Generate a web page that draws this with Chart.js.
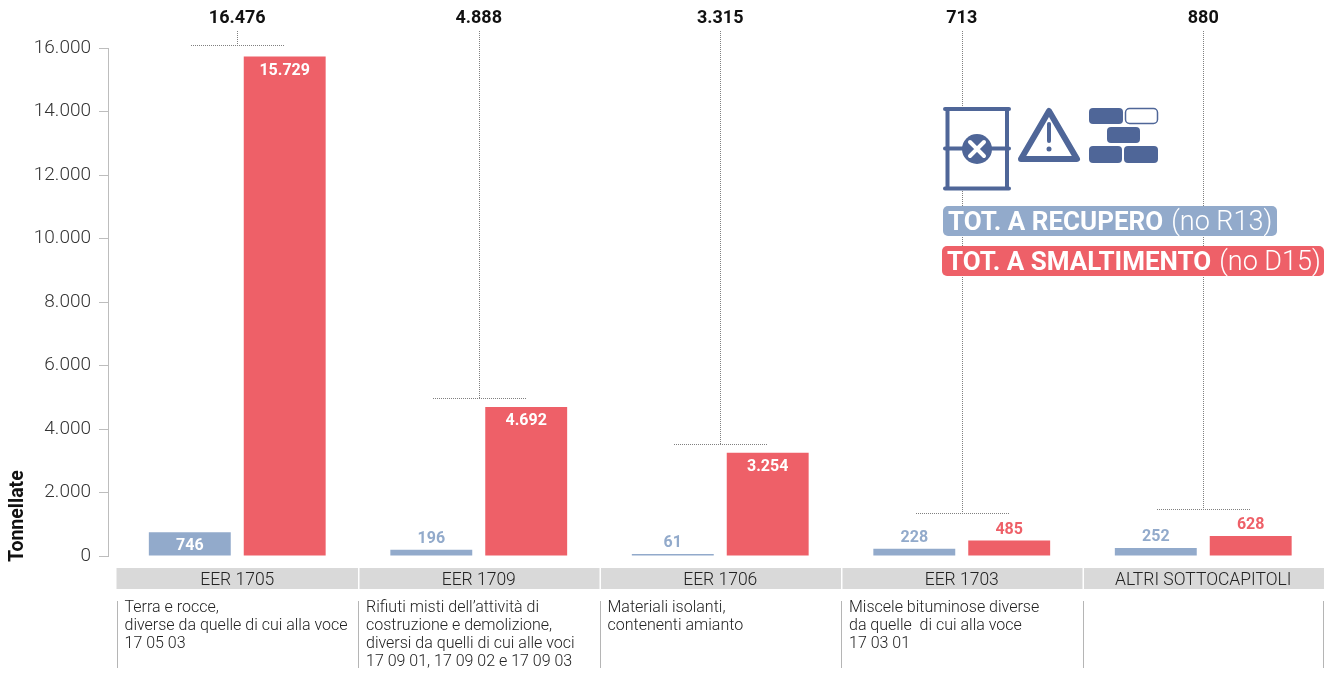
<!DOCTYPE html>
<html>
<head>
<meta charset="utf-8">
<title>Rifiuti per capitolo EER</title>
<script src="https://cdn.jsdelivr.net/npm/chart.js@4"></script>
<style>
    html, body { margin: 0; padding: 0; background: #fff; }
    canvas { display: block; }
</style>
</head>
<body>
<canvas id="bar-chart" width="1333" height="679"></canvas>
<script>
var categories = ["EER 1705", "EER 1709", "EER 1706", "EER 1703", "ALTRI SOTTOCAPITOLI"];
var recupero = [746, 196, 61, 228, 252];
var smaltimento = [15729, 4692, 3254, 485, 628];
var totali = [16476, 4888, 3315, 713, 880];
var bracketLevels = [16090, 4980, 3530, 1350, 1480];
var yTicks = [0, 2000, 4000, 6000, 8000, 10000, 12000, 14000, 16000];
var descriptions = [
    ["Terra e rocce,", "diverse da quelle di cui alla voce", "17 05 03"],
    ["Rifiuti misti dell\u2019attività di", "costruzione e demolizione,", "diversi da quelli di cui alle voci", "17 09 01, 17 09 02 e 17 09 03"],
    ["Materiali isolanti,", "contenenti amianto"],
    ["Miscele bituminose diverse", "da quelle  di cui alla voce", "17 03 01"],
    []
];

var BLUE = "#92aacb", RED = "#ee6068", DARK = "#4f6698", FONT = "Roboto";

function fmt(v) {
    return String(v).replace(/\B(?=(\d{3})+$)/g, ".");
}

function roundBox(ctx, x, y, w, h, r) {
    ctx.beginPath();
    ctx.roundRect(x, y, w, h, r);
}

// the y axis sits a bit left of the first category band
var shiftX = {
    id: "shiftX",
    afterLayout: function (chart) {
        var x = chart.scales.x;
        x.left = 116.5;
        x.width = x.right - x.left;
        x.configure();
    }
};

var bands = {
    id: "bands",
    beforeDraw: function (chart) {
        var ctx = chart.ctx, x = chart.scales.x, w = x.width / categories.length;
        ctx.save();
        categories.forEach(function (c, i) {
            var left = x.getPixelForValue(i) - w / 2;
            ctx.fillStyle = "#d9d9d9";
            ctx.fillRect(left + (i ? 1.5 : 0), 568, w - (i ? 1.5 : 0), 21);
            ctx.fillStyle = "#b5b5b5";
            ctx.fillRect(Math.round(left), 601, 1, 67);
            ctx.fillStyle = "#222";
            ctx.font = "300 16px " + FONT;
            ctx.textBaseline = "middle";
            descriptions[i].forEach(function (line, n) {
                ctx.fillText(line, left + 8, 608 + n * 18);
            });
        });
        ctx.fillStyle = "#b5b5b5";
        ctx.fillRect(1323, 601, 1, 67);

        // axis title, starts a little below the baseline of the plot
        ctx.translate(23, 562);
        ctx.rotate(-Math.PI / 2);
        ctx.fillStyle = "#111";
        ctx.font = "bold 19.5px " + FONT;
        ctx.textBaseline = "alphabetic";
        ctx.fillText("Tonnellate", 0, 0);
        ctx.restore();
    }
};

var totals = {
    id: "totals",
    afterDatasetsDraw: function (chart) {
        var ctx = chart.ctx, x = chart.scales.x, y = chart.scales.y;
        ctx.save();
        // dotted brackets joining each pair of bars to its total
        ctx.strokeStyle = "#808080";
        ctx.lineWidth = 1;
        ctx.setLineDash([1, 1]);
        totali.forEach(function (t, i) {
            var c = Math.round(x.getPixelForValue(i));
            var by = Math.round(y.getPixelForValue(bracketLevels[i])) + 0.5;
            ctx.beginPath();
            ctx.moveTo(c + 0.5, 31);
            ctx.lineTo(c + 0.5, by);
            ctx.stroke();
            ctx.beginPath();
            ctx.moveTo(c - 46, by);
            ctx.lineTo(c + 47, by);
            ctx.stroke();
        });
        ctx.setLineDash([]);

        ctx.textAlign = "center";
        ctx.textBaseline = "middle";
        ctx.fillStyle = "#111";
        ctx.font = "bold 18px " + FONT;
        totali.forEach(function (t, i) {
            ctx.fillText(fmt(t), x.getPixelForValue(i), 18);
        });

        // bar values: inside when the bar is tall enough, above otherwise
        ctx.font = "bold 16px " + FONT;
        chart.data.datasets.forEach(function (ds, d) {
            chart.getDatasetMeta(d).data.forEach(function (bar, i) {
                var v = ds.data[i];
                if (v > 700) {
                    ctx.fillStyle = "#fff";
                    ctx.fillText(fmt(v), bar.x, bar.y + 14);
                } else {
                    ctx.fillStyle = ds.backgroundColor;
                    ctx.fillText(fmt(v), bar.x, bar.y - 11);
                }
            });
        });
        ctx.restore();
    }
};

var legendBox = {
    id: "legendBox",
    afterDraw: function (chart) {
        var ctx = chart.ctx;
        ctx.save();
        ctx.strokeStyle = DARK;
        ctx.fillStyle = DARK;
        ctx.lineCap = "round";
        ctx.lineJoin = "round";

        // barrel
        ctx.fillStyle = "#fff";
        ctx.fillRect(947, 109, 60, 80);
        ctx.fillStyle = DARK;
        ctx.lineWidth = 4;
        ctx.beginPath();
        ctx.moveTo(945, 109); ctx.lineTo(1009, 109);
        ctx.moveTo(945, 148.5); ctx.lineTo(1009, 148.5);
        ctx.moveTo(945, 188.5); ctx.lineTo(1009, 188.5);
        ctx.moveTo(947.5, 109); ctx.lineTo(947.5, 188);
        ctx.moveTo(1007, 109); ctx.lineTo(1007, 188);
        ctx.stroke();
        ctx.beginPath();
        ctx.arc(977, 149, 15, 0, Math.PI * 2);
        ctx.fill();
        ctx.strokeStyle = "#fff";
        ctx.beginPath();
        ctx.moveTo(970, 142); ctx.lineTo(984, 156);
        ctx.moveTo(984, 142); ctx.lineTo(970, 156);
        ctx.stroke();

        // warning triangle
        ctx.strokeStyle = DARK;
        ctx.lineWidth = 6;
        ctx.beginPath();
        ctx.moveTo(1049, 111); ctx.lineTo(1077, 159); ctx.lineTo(1021, 159);
        ctx.closePath();
        ctx.stroke();
        ctx.lineWidth = 4;
        ctx.beginPath();
        ctx.moveTo(1049, 124); ctx.lineTo(1049, 141);
        ctx.stroke();
        ctx.beginPath();
        ctx.arc(1049, 149, 2.5, 0, Math.PI * 2);
        ctx.fill();

        // bricks
        roundBox(ctx, 1089, 108, 34, 16, 4); ctx.fill();
        roundBox(ctx, 1107, 127, 33, 16, 4); ctx.fill();
        roundBox(ctx, 1089, 146, 33, 17, 4); ctx.fill();
        roundBox(ctx, 1124, 146, 34, 17, 4); ctx.fill();
        ctx.lineWidth = 1.5;
        roundBox(ctx, 1125.5, 108.5, 32, 15, 4); ctx.stroke();

        // legend pills
        function pill(x, y, w, color, strong, light) {
            ctx.fillStyle = color;
            roundBox(ctx, x, y, w, 30, 5);
            ctx.fill();
            ctx.fillStyle = "#fff";
            ctx.textBaseline = "middle";
            ctx.font = "bold 26px " + FONT;
            ctx.fillText(strong, x + 5, y + 17);
            var tw = ctx.measureText(strong).width;
            ctx.font = "300 27px " + FONT;
            ctx.fillText(light, x + 13 + tw, y + 17);
        }
        pill(943, 206, 334, BLUE, "TOT. A RECUPERO", "(no R13)");
        pill(942, 246, 382, RED, "TOT. A SMALTIMENTO", "(no D15)");
        ctx.restore();
    }
};

new Chart(document.getElementById("bar-chart"), {
    type: "bar",
    data: {
        labels: categories,
        datasets: [
            { label: "TOT. A RECUPERO (no R13)", data: recupero, backgroundColor: BLUE },
            { label: "TOT. A SMALTIMENTO (no D15)", data: smaltimento, backgroundColor: RED }
        ]
    },
    plugins: [shiftX, bands, totals, legendBox],
    options: {
        responsive: false,
        animation: false,
        categoryPercentage: 0.786,
        barPercentage: 0.863,
        layout: { padding: { top: 48, right: 9, left: 0, bottom: 0 } },
        plugins: {
            legend: { display: false },
            title: { display: false },
            tooltip: { enabled: false }
        },
        scales: {
            x: {
                afterFit: function (scale) { scale.height = 123; },
                grid: { display: false },
                border: { display: false },
                ticks: {
                    color: "#222",
                    padding: 6,
                    maxRotation: 0,
                    autoSkip: false,
                    font: { family: FONT, size: 17.5, weight: "300" }
                }
            },
            y: {
                min: 0,
                max: 16000,
                afterFit: function (scale) { scale.width = 108; },
                afterBuildTicks: function (scale) {
                    scale.ticks = yTicks.map(function (v) { return { value: v }; });
                },
                border: { color: "#bdbdbd" },
                grid: { drawOnChartArea: false, color: "#bdbdbd", tickLength: 9 },
                ticks: {
                    color: "#333",
                    padding: 8,
                    font: { family: FONT, size: 19, weight: "300" },
                    callback: function (v) { return fmt(v); }
                }
            }
        }
    }
});
</script>
</body>
</html>
